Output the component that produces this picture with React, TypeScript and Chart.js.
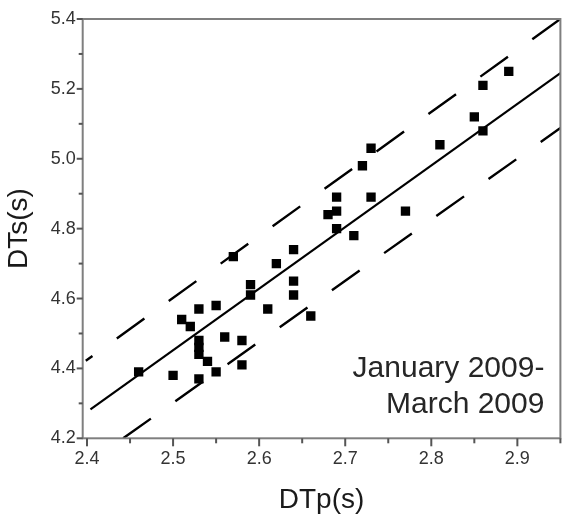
import React, { useEffect, useRef } from 'react';
import { Chart, registerables } from 'chart.js';

Chart.register(...registerables);

// Observed data (DTp, DTs)
const DTP = [2.46, 2.50, 2.51, 2.52, 2.53, 2.55, 2.53, 2.53, 2.53, 2.54, 2.55, 2.53, 2.56, 2.58, 2.58, 2.59, 2.59, 2.57, 2.62, 2.64, 2.64, 2.64, 2.61, 2.66, 2.69, 2.69, 2.68, 2.69, 2.71, 2.73, 2.89, 2.86, 2.85, 2.86, 2.81, 2.73, 2.72, 2.77];
const DTS = [4.39, 4.38, 4.54, 4.52, 4.57, 4.58, 4.48, 4.46, 4.44, 4.42, 4.39, 4.37, 4.49, 4.48, 4.41, 4.64, 4.61, 4.72, 4.70, 4.74, 4.65, 4.61, 4.57, 4.55, 4.89, 4.85, 4.84, 4.80, 4.78, 4.89, 5.25, 5.21, 5.12, 5.08, 5.04, 5.03, 4.98, 4.85];

// Fit line and bounds (end points)
const FIT_X = [2.404, 2.95];
const FIT_Y = [4.283, 5.245];
const UPPER_X = [2.3986, 2.95];
const UPPER_Y = [4.422, 5.40];
const LOWER_X = [2.442, 2.95];
const LOWER_Y = [4.20, 5.088];

// Axis ticks
const X_TICKS = [2.4, 2.5, 2.6, 2.7, 2.8, 2.9];
const X_MINOR = [2.45, 2.55, 2.65, 2.75, 2.85, 2.95];
const Y_TICKS = [4.2, 4.4, 4.6, 4.8, 5.0, 5.2, 5.4];
const Y_MINOR = [4.3, 4.5, 4.7, 4.9, 5.1, 5.3];

const ANNOTATION = ['January 2009-', 'March 2009'];

const pts = (xs: number[], ys: number[]) => xs.map((x, i) => ({ x, y: ys[i] }));

const TICK_FONT = "'Liberation Sans Narrow', 'Liberation Sans', Arial, sans-serif";
const TITLE_FONT = "'Liberation Sans', Arial, sans-serif";

const framePlugin = {
  id: 'frame',
  afterDraw(chart: any) {
    const { ctx, chartArea: a, scales } = chart;
    const x = scales.x;
    const y = scales.y;
    ctx.save();
    ctx.strokeStyle = '#7f7f7f';
    ctx.lineWidth = 2;
    ctx.strokeRect(a.left, a.top, a.right - a.left, a.bottom - a.top);
    ctx.strokeStyle = '#555';
    ctx.lineWidth = 2;
    const drawX = (v: number, len: number) => {
      const px = x.getPixelForValue(v);
      ctx.beginPath();
      ctx.moveTo(px, a.bottom);
      ctx.lineTo(px, a.bottom + len);
      ctx.stroke();
    };
    const drawY = (v: number, len: number) => {
      const py = y.getPixelForValue(v);
      ctx.beginPath();
      ctx.moveTo(a.left, py);
      ctx.lineTo(a.left - len, py);
      ctx.stroke();
    };
    X_TICKS.forEach((v) => drawX(v, 8));
    X_MINOR.forEach((v) => drawX(v, 5));
    Y_TICKS.forEach((v) => drawY(v, 6));
    Y_MINOR.forEach((v) => drawY(v, 4));

    ctx.fillStyle = '#262626';
    ctx.font = `30px ${TITLE_FONT}`;
    ctx.textAlign = 'right';
    ctx.textBaseline = 'alphabetic';
    ctx.fillText(ANNOTATION[0], a.right - 16, 377);
    ctx.fillText(ANNOTATION[1], a.right - 16, 413);
    ctx.restore();
  },
};

export default function App() {
  const ref = useRef<HTMLCanvasElement | null>(null);
  useEffect(() => {
    if (!ref.current) return;
    const chart = new Chart(ref.current, {
      type: 'scatter',
      data: {
        datasets: [
          {
            data: pts(DTP, DTS),
            pointStyle: 'rect',
            pointRadius: 6.6,
            pointBackgroundColor: '#000',
            pointBorderWidth: 0,
            showLine: false,
          },
          {
            data: pts(FIT_X, FIT_Y),
            showLine: true,
            borderColor: '#000',
            borderWidth: 2.2,
            pointRadius: 0,
          },
          {
            data: pts(UPPER_X, UPPER_Y),
            showLine: true,
            borderColor: '#000',
            borderWidth: 2.4,
            borderDash: [34, 30],
            borderDashOffset: 25.8,
            pointRadius: 0,
          },
          {
            data: pts(LOWER_X, LOWER_Y),
            showLine: true,
            borderColor: '#000',
            borderWidth: 2.4,
            borderDash: [34, 30],
            borderDashOffset: 0,
            pointRadius: 0,
          },
        ],
      } as any,
      options: {
        animation: false,
        responsive: false,
        layout: { padding: { left: 0, right: 4, top: 19, bottom: 0 } },
        plugins: { legend: { display: false }, tooltip: { enabled: false }, title: { display: false } },
        scales: {
          x: {
            type: 'linear',
            min: 2.395,
            max: 2.95,
            afterBuildTicks: (s: any) => {
              s.ticks = X_TICKS.map((value) => ({ value }));
            },
            afterFit: (s: any) => {
              s.height = 77.7;
            },
            grid: { display: false, drawTicks: false },
            border: { display: false },
            ticks: {
              font: { family: TICK_FONT, size: 18 },
              color: '#333',
              padding: 10,
              maxRotation: 0,
              autoSkip: false,
              callback: (v: any) => Number(v).toFixed(1),
            },
            title: {
              display: true,
              text: 'DTp(s)',
              color: '#1a1a1a',
              font: { family: TITLE_FONT, size: 28, lineHeight: 1 },
              padding: { top: 0, bottom: 2 },
            },
          },
          y: {
            type: 'linear',
            min: 4.2,
            max: 5.4,
            afterBuildTicks: (s: any) => {
              s.ticks = Y_TICKS.map((value) => ({ value }));
            },
            afterFit: (s: any) => {
              s.width = 82.7;
            },
            grid: { display: false, drawTicks: false },
            border: { display: false },
            ticks: {
              font: { family: TICK_FONT, size: 18 },
              color: '#333',
              padding: 7,
              autoSkip: false,
              callback: (v: any) => Number(v).toFixed(1),
            },
            title: {
              display: true,
              text: 'DTs(s)',
              color: '#1a1a1a',
              font: { family: TITLE_FONT, size: 28, lineHeight: 1 },
              padding: { top: 5, bottom: 0 },
            },
          },
        },
      } as any,
      plugins: [framePlugin],
    });
    return () => chart.destroy();
  }, []);
  return (
    <div style={{ position: 'absolute', left: 0, top: 0, width: 567, height: 516, background: '#fff' }}>
      <canvas ref={ref} width={567} height={516} style={{ display: 'block' }} />
    </div>
  );
}
